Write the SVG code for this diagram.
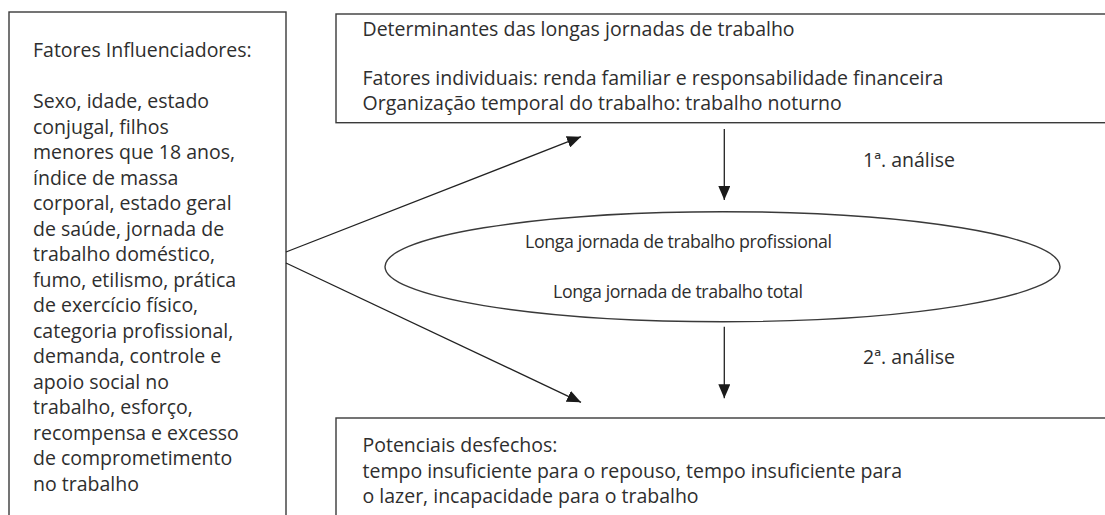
<svg xmlns="http://www.w3.org/2000/svg" width="1105" height="515" viewBox="0 0 1105 515">
<style>
  .box { fill: #ffffff; stroke: #3a3a3a; stroke-width: 1.4; }
  .t { font-family: "Open Sans", "Noto Sans", "Liberation Sans", sans-serif; font-size: 19.5px; fill: #2e2e2e; }
  .te { font-family: "Open Sans", "Noto Sans", "Liberation Sans", sans-serif; font-size: 17.8px; fill: #2e2e2e; text-anchor: middle; }
  .conn { fill: none; stroke: #222222; stroke-width: 1.3; }
</style>
<defs>
  <marker id="arrow" markerUnits="userSpaceOnUse" markerWidth="14" markerHeight="12" viewBox="0 0 14 12" refX="14" refY="6" orient="auto">
    <path d="M0,0 L14,6 L0,12 z" fill="#1a1a1a"/>
  </marker>
</defs>
<rect width="1105" height="515" fill="#ffffff"/>

<g id="node-fatores">
  <rect class="box" x="9" y="12" width="277" height="520"/>
  <text class="t" x="33" y="57">Fatores Influenciadores:</text>
  <text class="t" x="33" y="108.3">Sexo, idade, estado</text>
  <text class="t" x="33" y="133.8">conjugal, filhos</text>
  <text class="t" x="33" y="159.3">menores que 18 anos,</text>
  <text class="t" x="33" y="184.8">índice de massa</text>
  <text class="t" x="33" y="210.3">corporal, estado geral</text>
  <text class="t" x="33" y="235.8">de saúde, jornada de</text>
  <text class="t" x="33" y="261.3">trabalho doméstico,</text>
  <text class="t" x="33" y="286.8">fumo, etilismo, prática</text>
  <text class="t" x="33" y="312.3">de exercício físico,</text>
  <text class="t" x="33" y="337.8">categoria profissional,</text>
  <text class="t" x="33" y="363.3">demanda, controle e</text>
  <text class="t" x="33" y="388.8">apoio social no</text>
  <text class="t" x="33" y="414.3">trabalho, esforço,</text>
  <text class="t" x="33" y="439.8">recompensa e excesso</text>
  <text class="t" x="33" y="465.3">de comprometimento</text>
  <text class="t" x="33" y="490.8">no trabalho</text>
</g>

<g id="node-determinantes">
  <rect class="box" x="336" y="14" width="800" height="108.7"/>
  <text class="t" x="362.5" y="36">Determinantes das longas jornadas de trabalho</text>
  <text class="t" x="362.5" y="85">Fatores individuais: renda familiar e responsabilidade financeira</text>
  <text class="t" x="362.5" y="110">Organização temporal do trabalho: trabalho noturno</text>
</g>

<g id="node-jornada">
  <ellipse class="box" cx="722.5" cy="266.7" rx="337.5" ry="55"/>
  <text class="te" x="678.5" y="248.3" textLength="307" lengthAdjust="spacing">Longa jornada de trabalho profissional</text>
  <text class="te" x="678" y="298.3" textLength="250" lengthAdjust="spacing">Longa jornada de trabalho total</text>
</g>

<g id="node-desfechos">
  <rect class="box" x="336" y="418" width="800" height="120"/>
  <text class="t" x="362.5" y="452">Potenciais desfechos:</text>
  <text class="t" x="362.5" y="478">tempo insuficiente para o repouso, tempo insuficiente para</text>
  <text class="t" x="362.5" y="503">o lazer, incapacidade para o trabalho</text>
</g>

<g id="connectors">
  <line class="conn" x1="286" y1="252" x2="581" y2="136.7" marker-end="url(#arrow)"/>
  <line class="conn" x1="286" y1="263" x2="581" y2="402.3" marker-end="url(#arrow)"/>
  <line class="conn" x1="724.3" y1="129" x2="724.3" y2="200" marker-end="url(#arrow)"/>
  <line class="conn" x1="724.3" y1="326.7" x2="724.3" y2="398.3" marker-end="url(#arrow)"/>
  <text class="t" x="863" y="166.5">1ª. análise</text>
  <text class="t" x="863" y="364">2ª. análise</text>
</g>
</svg>
